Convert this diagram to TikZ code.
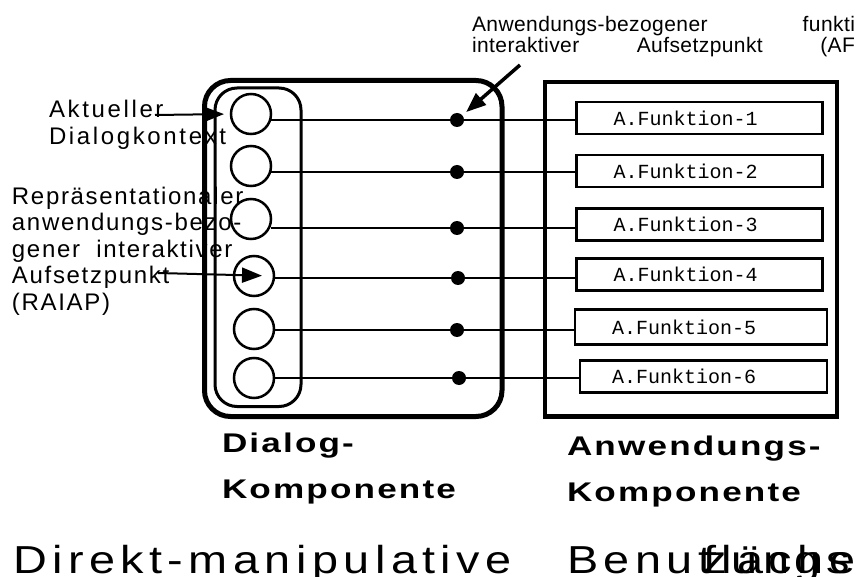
\documentclass[tikz,border=0pt]{standalone}
\usepackage{fontspec}
\setmainfont{Liberation Sans}
\newfontfamily\funcfont{Liberation Mono}
\usetikzlibrary{arrows.meta, positioning}

\begin{document}
\begin{tikzpicture}[x=1pt, y=-1pt, >={Triangle[length=20pt, width=15pt]},
    every node/.style={inner sep=0pt, outer sep=0pt},
    ctx/.style={draw, circle, line width=2.5pt, minimum size=40pt},
    tap/.style={fill, circle, minimum size=14pt},
    fbox/.style={draw, rectangle, line width=2.7pt, minimum height=32pt, inner xsep=37pt, text width=172pt, align=left, font=\funcfont\fontsize{20}{22}\selectfont},
    link/.style={line width=2pt},
    lbl/.style={anchor=base west, align=left},
    smalltxt/.style={font=\fontsize{24}{27}\selectfont\addfontfeatures{LetterSpace=11}},
    bigtxt/.style={anchor=base west, font=\fontsize{39}{44}\selectfont\addfontfeatures{FakeStretch=1.2, LetterSpace=14}},
    comptxt/.style={anchor=base west, align=left, font=\fontsize{27}{46}\selectfont\bfseries\addfontfeatures{FakeStretch=1.3, LetterSpace=8}}]
    \useasboundingbox (0,0) rectangle (859,577);

    % Dialog component
    \draw[line width=5pt, rounded corners=26pt] (204.5,80.5) rectangle (502,416.5);
    \draw[line width=3pt, rounded corners=22pt] (215,88) rectangle (301,406.5);

    % Application component
    \draw[line width=4.5pt] (545,82) rectangle (837,416.5);

    % Dialog contexts
    \node[ctx] (c1) at (251,114) {};
    \node[ctx] (c2) at (251,166) {};
    \node[ctx] (c3) at (251,219) {};
    \node[ctx] (c4) at (254,276) {};
    \node[ctx] (c5) at (254,329) {};
    \node[ctx] (c6) at (254,378) {};

    % Access points
    \node[tap] (d1) at (457,120) {};
    \node[tap] (d2) at (457,172) {};
    \node[tap] (d3) at (457,228) {};
    \node[tap] (d4) at (458,278) {};
    \node[tap] (d5) at (457,330) {};
    \node[tap] (d6) at (459,378) {};

    % Application functions
    \node[fbox] (f1) at (699.5,118) {A.Funktion-1};
    \node[fbox] (f2) at (699.5,171) {A.Funktion-2};
    \node[fbox] (f3) at (699.5,224.5) {A.Funktion-3};
    \node[fbox] (f4) at (699.5,274.5) {A.Funktion-4};
    \node[fbox, minimum height=35pt, text width=178pt] (f5) at (701,327) {A.Funktion-5};
    \node[fbox, inner xsep=32pt, text width=183pt] (f6) at (703.5,376.5) {A.Funktion-6};

    % Links
    \draw[link] (c1.east |- d1) -- (d1) -- (f1.west |- d1);
    \draw[link] (c2.east |- d2) -- (d2) -- (f2.west |- d2);
    \draw[link] (c3.east |- d3) -- (d3) -- (f3.west |- d3);
    \draw[link] (c4.east |- d4) -- (d4) -- (f4.west |- d4);
    \draw[link] (c5.east |- d5) -- (d5) -- (f5.west |- d5);
    \draw[link] (c6.east |- d6) -- (d6) -- (f6.west |- d6);

    % Labels (base = last line)
    \node[lbl, font=\fontsize{21}{21}\selectfont\addfontfeatures{LetterSpace=2}] (afiap) at (472,53)
        {\makebox[383pt][s]{Anwendungs-bezogener funkti}\\\makebox[383pt][s]{interaktiver Aufsetzpunkt (AF}};
    \node[lbl, smalltxt] (adk) at (49,145) {Aktueller\\Dialogkontext};
    \node[lbl, font=\fontsize{24}{26.5}\selectfont\addfontfeatures{LetterSpace=7}] (raiap) at (12,310)
        {Repräsentationaler\\anwendungs-bezo-\\gener\hspace{8pt} interaktiver\\Aufsetzpunkt\\(RAIAP)};

    \coordinate (afiapfrom) at (520,65);
    \coordinate (adkfrom) at (155,115);
    \coordinate (raiapfrom) at (158,273);
    \draw[->, line width=3.5pt, shorten >=5pt] (afiapfrom) -- (d1);
    \draw[->, link, shorten >=7pt] (adkfrom) -- (c1.west);
    \draw[->, link, shorten >=12pt] (raiapfrom) -- (c4.east);

    % Component names
    \node[comptxt] (dlg) at (222,498) {Dialog-\\Komponente};
    \node[comptxt] (anw) at (567,501) {Anwendungs-\\Komponente};

    % Title
    \node[bigtxt] (dm) at (13,573) {Direkt-manipulative};
    \node[bigtxt] (bn) at (567,573) {Benut};
    \node[bigtxt] (bz) at (703,573) {zungs};
    \node[bigtxt] (bf) at (703,573) {fläche};
\end{tikzpicture}
\end{document}
